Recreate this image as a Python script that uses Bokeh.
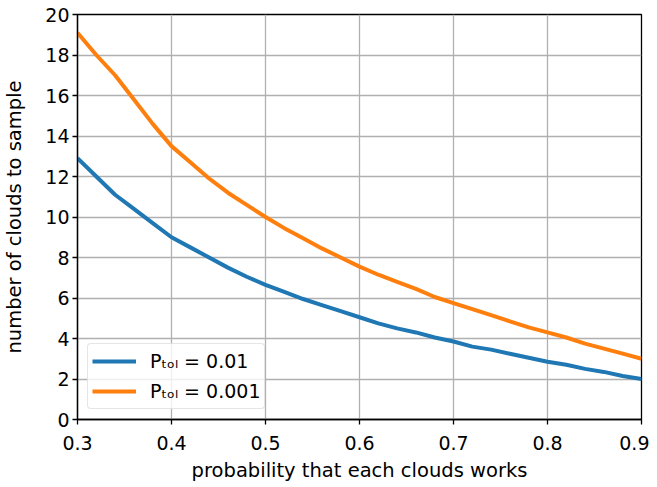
from bokeh.plotting import figure
from bokeh.models import Range1d, FixedTicker, Legend, LegendItem
from bokeh.embed import file_html
from bokeh.resources import INLINE

# values
p_work = [0.30, 0.32, 0.34, 0.36, 0.38, 0.40, 0.42, 0.44, 0.46, 0.48, 0.50,
          0.52, 0.54, 0.56, 0.58, 0.60, 0.62, 0.64, 0.66, 0.68, 0.70,
          0.72, 0.74, 0.76, 0.78, 0.80, 0.82, 0.84, 0.86, 0.88, 0.90]
n_tol_001 = [12.9, 12.0, 11.1, 10.4, 9.7, 9.0, 8.5, 8.0, 7.5, 7.05, 6.65,
             6.3, 5.95, 5.65, 5.35, 5.05, 4.75, 4.5, 4.3, 4.05, 3.85,
             3.6, 3.45, 3.25, 3.05, 2.85, 2.7, 2.5, 2.35, 2.15, 2.0]
n_tol_0001 = [19.1, 18.0, 17.0, 15.8, 14.6, 13.5, 12.7, 11.9, 11.2, 10.6, 10.0,
              9.45, 8.95, 8.45, 8.0, 7.55, 7.15, 6.8, 6.45, 6.05, 5.75,
              5.45, 5.15, 4.85, 4.55, 4.3, 4.05, 3.75, 3.5, 3.25, 3.0]
x_ticks = [0.3, 0.4, 0.5, 0.6, 0.7, 0.8, 0.9]
y_ticks = [0, 2, 4, 6, 8, 10, 12, 14, 16, 18, 20]
labels = ["P\u209c\u2092\u2097 = 0.01", "P\u209c\u2092\u2097 = 0.001"]

FONT = "DejaVu Sans"
FS = "19px"

p = figure(width=649, height=486, output_backend="svg", toolbar_location=None,
           x_range=Range1d(0.3, 0.9), y_range=Range1d(0, 20),
           min_border_left=77, min_border_right=8, min_border_top=14, min_border_bottom=67)

r1 = p.line(p_work, n_tol_001, line_color="#1f77b4", line_width=4)
r2 = p.line(p_work, n_tol_0001, line_color="#ff7f0e", line_width=4)

p.outline_line_color = "black"
p.outline_line_width = 1.3
p.outline_line_alpha = 1.0

for ax in (p.xaxis[0], p.yaxis[0]):
    ax.axis_line_width = 1.3
    ax.axis_line_color = "black"
    ax.major_tick_line_color = "black"
    ax.major_tick_line_width = 1.3
    ax.major_tick_in = 0
    ax.major_tick_out = 5
    ax.minor_tick_line_color = None
    ax.major_label_text_font = FONT
    ax.major_label_text_font_size = FS
    ax.major_label_text_color = "black"
    ax.axis_label_text_font = FONT
    ax.axis_label_text_font_size = "19.5px"
    ax.axis_label_text_font_style = "normal"
    ax.axis_label_text_color = "black"

p.xaxis[0].ticker = FixedTicker(ticks=x_ticks)
p.yaxis[0].ticker = FixedTicker(ticks=y_ticks)
p.xaxis[0].axis_label = "probability that each clouds works"
p.yaxis[0].axis_label = "number of clouds to sample"
p.xaxis[0].major_label_standoff = 11
p.yaxis[0].major_label_standoff = 3
p.xaxis[0].axis_label_standoff = 6
p.yaxis[0].axis_label_standoff = 16

for g in (p.xgrid[0], p.ygrid[0]):
    g.grid_line_color = "#b0b0b0"
    g.grid_line_width = 1.3

legend = Legend(items=[LegendItem(label=labels[0], renderers=[r1]),
                       LegendItem(label=labels[1], renderers=[r2])],
                location="bottom_left")
legend.margin = 10
legend.padding = 4
legend.spacing = 4
legend.glyph_width = 44
legend.glyph_height = 26
legend.label_height = 26
legend.label_standoff = 14
legend.label_text_font = FONT
legend.label_text_font_size = FS
legend.label_text_color = "black"
legend.border_line_color = "#cccccc"
legend.border_line_width = 1
legend.background_fill_alpha = 0.8
legend.border_radius = 4
p.add_layout(legend)

open("out.html", "w").write(file_html(p, INLINE))
